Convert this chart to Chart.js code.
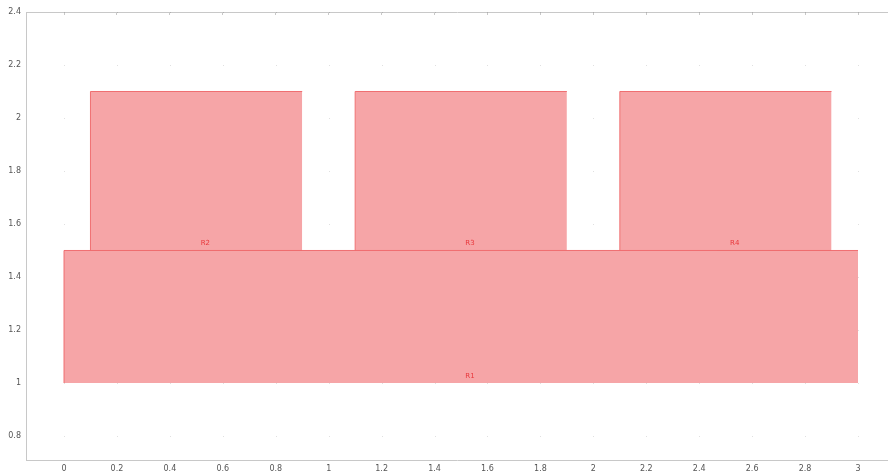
<!DOCTYPE html>
<html>
<head>
<meta charset="utf-8">
<script src="https://cdn.jsdelivr.net/npm/chart.js@4.4.1/dist/chart.umd.min.js"></script>
<style>
  html, body { margin: 0; padding: 0; background: #ffffff; }
  #wrap { width: 888px; height: 475px; }
</style>
</head>
<body>
<div id="wrap"><canvas id="c" width="888" height="475"></canvas></div>
<script>
// Rectangle regions: name, x range and y range
const regionNames = ['R1', 'R2', 'R3', 'R4'];
const regionX0 = [0, 0.1, 1.1, 2.1];
const regionX1 = [3, 0.9, 1.9, 2.9];
const regionY0 = [1, 1.5, 1.5, 1.5];
const regionY1 = [1.5, 2.1, 2.1, 2.1];

// Axis ticks
const xTickValues = [0, 0.2, 0.4, 0.6, 0.8, 1, 1.2, 1.4, 1.6, 1.8, 2, 2.2, 2.4, 2.6, 2.8, 3];
const yTickValues = [0.8, 1, 1.2, 1.4, 1.6, 1.8, 2, 2.2, 2.4];

const fillColor = 'rgba(246, 165, 167, 1)';
const edgeColor = 'rgba(238, 100, 102, 0.9)';
const labelColor = '#e8383c';
const axisColor = '#c8c8c8';
const tickTextColor = '#555555';

// Each region: outline along its left and top edges, filled down to its lower edge
const datasets = regionNames.map((name, i) => ({
  label: name,
  data: [
    { x: regionX0[i], y: regionY0[i] },
    { x: regionX0[i], y: regionY1[i] },
    { x: regionX1[i], y: regionY1[i] }
  ],
  showLine: true,
  borderColor: edgeColor,
  borderWidth: 1,
  backgroundColor: fillColor,
  pointRadius: 0,
  tension: 0,
  fill: { target: { value: regionY0[i] } }
}));

// Region names written just above each region's lower edge
const regionLabels = {
  id: 'regionLabels',
  afterDatasetsDraw(chart) {
    const { ctx, scales } = chart;
    ctx.save();
    ctx.font = '7px "DejaVu Sans", sans-serif';
    ctx.fillStyle = labelColor;
    ctx.textAlign = 'center';
    ctx.textBaseline = 'alphabetic';
    regionNames.forEach((name, i) => {
      const cx = scales.x.getPixelForValue((regionX0[i] + regionX1[i]) / 2) + 9;
      const by = scales.y.getPixelForValue(regionY0[i]) - 5;
      ctx.fillText(name, cx, by);
    });
    ctx.restore();
  }
};

// Faint marks where ticks cross
const gridDots = {
  id: 'gridDots',
  beforeDatasetsDraw(chart) {
    const { ctx, scales } = chart;
    ctx.save();
    ctx.fillStyle = 'rgba(0,0,0,0.12)';
    xTickValues.forEach(xv => {
      yTickValues.forEach(yv => {
        const px = Math.round(scales.x.getPixelForValue(xv));
        const py = Math.round(scales.y.getPixelForValue(yv));
        ctx.fillRect(px, py, 1, 1);
      });
    });
    ctx.restore();
  }
};

const tickFont = { family: '"DejaVu Sans", sans-serif', size: 8 };

new Chart(document.getElementById('c'), {
  type: 'scatter',
  data: { datasets },
  options: {
    responsive: false,
    animation: false,
    layout: { padding: { top: 12, right: 0, left: 0, bottom: 0 } },
    plugins: {
      legend: { display: false },
      tooltip: { enabled: false }
    },
    scales: {
      x: {
        type: 'linear',
        position: 'bottom',
        min: -0.1436,
        max: 3.1133,
        afterBuildTicks: s => { s.ticks = xTickValues.map(v => ({ value: v })); },
        afterFit: s => { s.height = 15; },
        grid: { display: false, drawTicks: false },
        border: { display: true, color: axisColor, width: 1 },
        ticks: {
          font: tickFont,
          color: tickTextColor,
          padding: 4,
          maxRotation: 0,
          autoSkip: false,
          callback: v => String(Math.round(v * 10) / 10)
        }
      },
      x2: {
        type: 'linear',
        position: 'top',
        min: -0.1436,
        max: 3.1133,
        afterBuildTicks: s => { s.ticks = xTickValues.map(v => ({ value: v })); },
        afterFit: s => { s.height = 0; },
        grid: { display: true, drawOnChartArea: false, drawTicks: true, tickLength: -3, color: axisColor },
        border: { display: true, color: axisColor, width: 1 },
        ticks: { display: false }
      },
      y: {
        type: 'linear',
        min: 0.7094,
        max: 2.4,
        afterBuildTicks: s => { s.ticks = yTickValues.map(v => ({ value: v })); },
        afterFit: s => { s.width = 26; },
        grid: { display: false, drawTicks: false },
        border: { display: true, color: axisColor, width: 1 },
        ticks: {
          font: tickFont,
          color: tickTextColor,
          padding: 5,
          autoSkip: false,
          callback: v => String(Math.round(v * 10) / 10)
        }
      }
    }
  },
  plugins: [gridDots, regionLabels]
});
</script>
</body>
</html>
